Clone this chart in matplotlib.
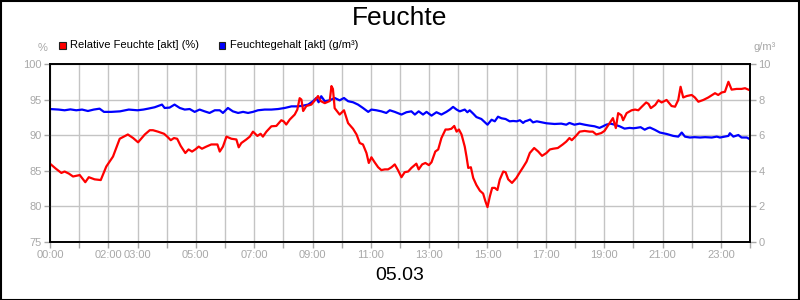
import matplotlib
matplotlib.use("Agg")
import matplotlib.pyplot as plt
from matplotlib.patches import Rectangle

plt.rcParams['font.family'] = ['Liberation Sans', 'DejaVu Sans']

# ---- data (hours of day 05.03) ----
rel_hours = [0.00, 0.20, 0.39, 0.50, 0.65, 0.79, 1.02, 1.21, 1.33, 1.53, 1.74, 1.93, 2.16, 2.39, 2.67,
             2.85, 3.02, 3.25, 3.42, 3.53, 3.70, 3.91, 4.02, 4.14, 4.25, 4.36, 4.48, 4.64, 4.75, 4.87,
             4.98, 5.10, 5.21, 5.36, 5.53, 5.74, 5.82, 5.93, 6.05, 6.22, 6.39, 6.47, 6.56, 6.73, 6.85,
             6.96, 7.11, 7.22, 7.30, 7.42, 7.59, 7.76, 7.93, 8.01, 8.10, 8.22, 8.39, 8.48, 8.56, 8.62,
             8.68, 8.79, 8.96, 9.08, 9.19, 9.28, 9.42, 9.59, 9.65, 9.70, 9.76, 9.93, 10.08, 10.22, 10.39,
             10.51, 10.62, 10.73, 10.85, 10.93, 11.02, 11.13, 11.25, 11.36, 11.48, 11.59, 11.71, 11.82,
             11.93, 12.05, 12.16, 12.28, 12.39, 12.56, 12.64, 12.76, 12.87, 12.99, 13.08, 13.21, 13.31,
             13.42, 13.56, 13.65, 13.76, 13.86, 13.94, 14.02, 14.11, 14.22, 14.28, 14.34, 14.43, 14.51,
             14.62, 14.74, 14.85, 14.93, 15.00, 15.08, 15.16, 15.25, 15.34, 15.42, 15.54, 15.62, 15.71,
             15.84, 15.99, 16.11, 16.22, 16.34, 16.45, 16.60, 16.74, 16.87, 17.02, 17.14, 17.25, 17.41,
             17.58, 17.70, 17.81, 17.89, 18.01, 18.16, 18.33, 18.50, 18.61, 18.73, 18.90, 19.01, 19.14,
             19.30, 19.40, 19.48, 19.59, 19.65, 19.77, 19.94, 20.06, 20.17, 20.29, 20.44, 20.52, 20.60,
             20.75, 20.86, 20.97, 21.14, 21.31, 21.43, 21.54, 21.62, 21.71, 21.83, 22.00, 22.11, 22.23,
             22.40, 22.57, 22.80, 22.91, 23.03, 23.14, 23.26, 23.37, 23.54, 23.71, 23.83, 24.00]
rel_humidity = [86.0, 85.3, 84.7, 84.9, 84.6, 84.2, 84.4, 83.4, 84.1, 83.8, 83.7, 85.6, 87.0, 89.5, 90.1,
                89.6, 89.0, 90.1, 90.7, 90.7, 90.5, 90.2, 89.8, 89.3, 89.6, 89.5, 88.5, 87.5, 88.0, 87.7,
                88.0, 88.4, 88.1, 88.4, 88.7, 88.7, 87.7, 88.4, 89.8, 89.5, 89.4, 88.3, 88.9, 89.4, 89.8,
                90.5, 89.9, 90.2, 89.8, 90.5, 91.25, 91.3, 92.1, 91.95, 91.5, 92.2, 92.9, 93.6, 95.2, 95.0,
                93.4, 94.1, 94.3, 94.9, 95.5, 94.8, 94.5, 94.8, 96.9, 96.5, 93.8, 92.9, 93.5, 91.7, 90.9,
                90.1, 88.9, 88.7, 87.5, 86.1, 86.9, 86.2, 85.5, 85.1, 85.2, 85.2, 85.5, 85.9,
                85.1, 84.1, 84.8, 84.9, 85.4, 86.0, 85.2, 85.9, 86.1, 85.8, 86.2, 87.7, 88.0,
                89.6, 90.8, 90.8, 90.9, 91.3, 90.5, 90.8, 90.1, 88.4, 87.0, 85.4, 85.5, 84.0,
                83.0, 82.2, 81.8, 80.7, 79.9, 81.4, 82.6, 82.6, 82.3, 83.75, 84.9, 84.8, 83.8,
                83.3, 84.0, 84.8, 85.5, 86.3, 87.5, 88.2, 87.7, 87.1, 87.5, 88.0, 88.1, 88.2,
                88.7, 89.1, 89.6, 89.3, 89.8, 90.5, 90.6, 90.5, 90.5, 90.1, 90.3, 90.6, 91.4,
                92.4, 91.0, 93.1, 92.8, 92.1, 93.1, 93.5, 93.6, 93.5, 94.0, 94.6, 94.4, 93.8,
                94.25, 94.9, 94.6, 94.95, 94.1, 94.0, 94.95, 96.8, 95.3, 95.5, 95.65, 95.3, 94.7,
                94.95, 95.3, 95.9, 95.65, 96.0, 96.1, 97.5, 96.4, 96.5, 96.5, 96.6, 96.3]

abs_hours = [0.00, 0.30, 0.50, 0.70, 0.90, 1.10, 1.30, 1.50, 1.70, 1.85, 2.10, 2.40, 2.70, 3.00, 3.20,
             3.36, 3.59, 3.84, 3.93, 4.10, 4.27, 4.45, 4.62, 4.79, 4.96, 5.13, 5.30, 5.47, 5.65, 5.82,
             5.93, 6.10, 6.27, 6.45, 6.62, 6.79, 6.96, 7.13, 7.36, 7.59, 7.82, 8.05, 8.28, 8.50, 8.68,
             8.85, 9.02, 9.13, 9.21, 9.30, 9.42, 9.59, 9.76, 9.93, 10.08, 10.22, 10.39, 10.56, 10.73,
             10.91, 11.02, 11.19, 11.36, 11.53, 11.65, 11.82, 12.05, 12.22, 12.39, 12.51, 12.64, 12.79,
             12.91, 13.08, 13.25, 13.42, 13.59, 13.71, 13.82, 13.94, 14.05, 14.22, 14.31, 14.39, 14.51,
             14.62, 14.79, 15.00, 15.14, 15.25, 15.36, 15.48, 15.62, 15.76, 15.88, 16.00, 16.11, 16.22,
             16.29, 16.37, 16.46, 16.56, 16.69, 16.87, 17.02, 17.15, 17.30, 17.53, 17.70, 17.81, 17.98,
             18.16, 18.33, 18.50, 18.67, 18.84, 18.96, 19.07, 19.22, 19.36, 19.53, 19.70, 19.87, 20.00,
             20.10, 20.25, 20.39, 20.50, 20.57, 20.74, 20.91, 21.14, 21.37, 21.54, 21.66, 21.77, 21.94,
             22.10, 22.29, 22.46, 22.69, 22.86, 22.97, 23.14, 23.26, 23.31, 23.43, 23.60, 23.71, 23.89,
             24.00]
abs_humidity = [7.47, 7.44, 7.40, 7.45, 7.40, 7.44, 7.36, 7.44, 7.49, 7.31, 7.31, 7.34, 7.44, 7.40, 7.44,
                7.49, 7.57, 7.72, 7.53, 7.55, 7.72, 7.53, 7.44, 7.47, 7.31, 7.44, 7.34, 7.25, 7.40, 7.40,
                7.25, 7.53, 7.34, 7.25, 7.31, 7.25, 7.31, 7.40, 7.44, 7.44, 7.47, 7.53, 7.62, 7.62, 7.66,
                7.72, 7.91, 8.09, 7.85, 8.19, 7.91, 7.96, 8.09, 7.96, 8.09, 7.91, 7.85, 7.72, 7.53,
                7.31, 7.44, 7.40, 7.34, 7.25, 7.40, 7.31, 7.16, 7.29, 7.34, 7.16, 7.34, 7.16,
                7.31, 7.10, 7.29, 7.16, 7.31, 7.44, 7.59, 7.44, 7.34, 7.44, 7.29, 7.40, 7.21,
                7.02, 6.91, 6.59, 6.87, 6.78, 7.04, 6.95, 6.91, 6.78, 6.80, 6.78, 6.84, 6.69,
                6.78, 6.82, 6.88, 6.72, 6.78, 6.72, 6.67, 6.65, 6.63, 6.65, 6.59, 6.69, 6.59,
                6.65, 6.59, 6.54, 6.50, 6.41, 6.50, 6.59, 6.65, 6.59, 6.50, 6.37, 6.41, 6.39,
                6.41, 6.45, 6.31, 6.40, 6.43, 6.30, 6.15, 6.07, 5.96, 5.92, 6.15, 5.92, 5.87,
                5.89, 5.87, 5.89, 5.87, 5.92, 5.87, 5.92, 5.96, 6.11, 5.92, 6.01, 5.87, 5.87,
                5.77]

x_tick_hours = [0, 2, 3, 5, 7, 9, 11, 13, 15, 17, 19, 21, 23]
x_tick_labels = ["00:00", "02:00", "03:00", "05:00", "07:00", "09:00", "11:00",
                 "13:00", "15:00", "17:00", "19:00", "21:00", "23:00"]
left_ticks = [75, 80, 85, 90, 95, 100]
right_ticks = [0, 2, 4, 6, 8, 10]

title = "Feuchte"
date_label = "05.03"
series_labels = ["Relative Feuchte [akt] (%)", "Feuchtegehalt [akt] (g/m³)"]

GRAY = "#a8a8a8"
GRID = "#c4c4c4"

fig = plt.figure(figsize=(8, 3), dpi=100)
fig.patch.set_facecolor("white")

ax = fig.add_axes([50/800, 58/300, 700/800, 178/300])
ax2 = ax.twinx()
# red axis on top, blue underneath
ax.set_zorder(ax2.get_zorder() + 1)
ax.patch.set_visible(False)

ax2.plot(abs_hours, abs_humidity, color="#0000ff", lw=1.6, solid_joinstyle="round")
ax.plot(rel_hours, rel_humidity, color="#ff0000", lw=1.6, solid_joinstyle="round")

ax.set_xlim(0, 24)
ax.set_ylim(75, 100)
ax2.set_ylim(0, 10)

ax.set_yticks(left_ticks)
ax2.set_yticks(right_ticks)
ax.set_xticks(range(25))
ax.set_xticklabels([x_tick_labels[x_tick_hours.index(h)] if h in x_tick_hours else "" for h in range(25)])

for a in (ax, ax2):
    a.tick_params(colors=GRAY, labelcolor=GRAY, labelsize=8, length=4, width=1, pad=2)
    for s in a.spines.values():
        s.set_color("black")
        s.set_linewidth(1.2)

# grid on the lower (blue) axes so it lies behind both lines
ax2.xaxis.set_visible(True)
ax2.tick_params(axis="x", bottom=False, top=False, labelbottom=False, labeltop=False)
ax2.grid(True, axis="both", color=GRID, lw=1)
ax2.set_axisbelow(True)

# titles and units
fig.text(0.5, 1 - 18/300, title, ha="center", va="center", fontsize=19, color="black")
fig.text(0.5, 1 - 275/300, date_label, ha="center", va="center", fontsize=14, color="black")
fig.text(47/800, 1 - 48/300, "%", ha="right", va="center", fontsize=8, color=GRAY)
fig.text(753/800, 1 - 47/300, "g/m³", ha="left", va="center", fontsize=8, color=GRAY)

# legend
for x0, col, lab in [(58.5, "#ff0000", series_labels[0]), (218.5, "#0000ff", series_labels[1])]:
    fig.patches.append(Rectangle((x0/800, 1 - 48.5/300), 7/800, 7/300, transform=fig.transFigure,
                                 facecolor=col, edgecolor="#202020", lw=0.8))
    fig.text((x0 + 11)/800, 1 - 45/300, lab, ha="left", va="center", fontsize=8, color="black")

# outer border
fig.patches.append(Rectangle((0.5/800, 0.5/300), 798.5/800, 298.5/300, transform=fig.transFigure,
                             facecolor="none", edgecolor="black", lw=1.5))

fig.savefig("out.png", dpi=100)
